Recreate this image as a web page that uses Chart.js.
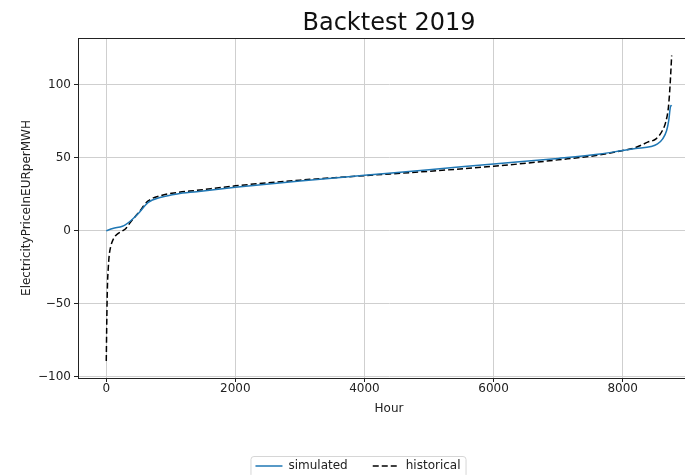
<!DOCTYPE html>
<html>
<head>
<meta charset="utf-8">
<script src="https://cdn.jsdelivr.net/npm/chart.js@4/dist/chart.umd.min.js"></script>
<style>
  html, body { margin: 0; padding: 0; overflow: hidden; background: #fff; }
</style>
</head>
<body>
<canvas id="chart" width="720" height="475"></canvas>
<script>
// ── Data ──────────────────────────────────────────────────────
const chartTitle = 'Backtest 2019';
const seriesNames = ['simulated', 'historical'];

const simHours  = [0, 100, 250, 300, 380, 500, 650, 850, 1100, 1400, 2000, 3000, 4000,
                   5000, 6000, 7000, 7650, 8000, 8200, 8440, 8540, 8620, 8680, 8714, 8739, 8759];
const simulated = [0, 1.6, 3.2, 4.3, 6.9, 12, 19.5, 23, 25.3, 26.8, 29.8, 34.2, 38.0,
                   41.8, 45.8, 49.6, 52.6, 55, 56.3, 57.7, 59.5, 63, 68.5, 75.6, 84.7, 86];

const histHours  = [0, 6, 12, 20, 30, 45, 70, 100, 140, 175, 250, 300, 380, 500, 650, 850,
                    1100, 1400, 2000, 3000, 4000, 5000, 6000, 7000, 7650, 8000, 8200, 8387,
                    8517, 8616, 8667, 8709, 8729, 8745, 8759];
const historical = [-89, -68, -50, -35, -26, -17, -10.5, -6.5, -3.5, -2, 0, 1.5, 6.2, 12.5, 20.5, 24.2,
                    26.2, 27.7, 30.8, 34.7, 37.8, 40.8, 44.2, 48.6, 52.0, 55, 57, 60.7,
                    63, 68.7, 74.4, 84.7, 96, 108, 120];

const xTicks = [0, 2000, 4000, 6000, 8000];
const yTicks = [-100, -50, 0, 50, 100];

// ── Defaults ──────────────────────────────────────────────────
Chart.defaults.font.family = '"DejaVu Sans", sans-serif';
Chart.defaults.font.size   = 12;
Chart.defaults.color       = '#222';

const toPoints = (xs, ys) => xs.map((x, i) => ({ x, y: ys[i] }));
const minusSign = (v) => String(v).replace('-', '\u2212');

// ── Plugins: title over axes, frame, legend box ───────────────
const axesDecor = {
  id: 'axesDecor',
  afterDraw(chart) {
    const { ctx, chartArea: a } = chart;
    ctx.save();
    ctx.strokeStyle = '#222';
    ctx.lineWidth = 1;
    ctx.strokeRect(a.left + 0.5, a.top + 0.5, a.right - a.left, a.bottom - a.top);

    ctx.fillStyle = '#111';
    ctx.font = '24px "DejaVu Sans", sans-serif';
    ctx.textAlign = 'center';
    ctx.textBaseline = 'alphabetic';
    ctx.fillText(chartTitle, (a.left + a.right) / 2, 30);

    const boxes = chart.legend.legendHitBoxes;
    if (boxes && boxes.length) {
      const x0 = Math.min(...boxes.map(b => b.left)) - 5;
      const x1 = Math.max(...boxes.map(b => b.left + b.width)) + 5;
      const y0 = Math.min(...boxes.map(b => b.top)) - 4;
      const y1 = Math.max(...boxes.map(b => b.top + b.height)) + 5;
      ctx.strokeStyle = '#d6d6d6';
      ctx.beginPath();
      ctx.roundRect(x0 + 0.5, y0 + 0.5, x1 - x0, y1 - y0, 3);
      ctx.stroke();
    }
    ctx.restore();
  },
};

// ── Line Chart ────────────────────────────────────────────────
new Chart(document.getElementById('chart'), {
  type: 'line',
  data: {
    datasets: [
      {
        label:           seriesNames[0],
        data:            toPoints(simHours, simulated),
        borderColor:     '#1f77b4',
        backgroundColor: '#1f77b4',
        borderWidth:     1.5,
        pointRadius:     0,
        cubicInterpolationMode: 'monotone',
      },
      {
        label:           seriesNames[1],
        data:            toPoints(histHours, historical),
        borderColor:     '#000',
        backgroundColor: '#000',
        borderWidth:     1.5,
        borderDash:      [6, 3],
        pointRadius:     0,
        cubicInterpolationMode: 'monotone',
      },
    ],
  },
  options: {
    responsive: false,
    animation:  false,
    layout: { padding: { top: 38, right: 20, left: 16, bottom: -7 } },
    plugins: {
      title:   { display: false },
      tooltip: { enabled: false },
      legend: {
        position: 'bottom',
        labels: {
          usePointStyle:   true,
          pointStyle:      'line',
          pointStyleWidth: 27,
          padding:         25,
          color:           '#222',
          font:            { size: 12 },
          generateLabels: (chart) =>
            Chart.defaults.plugins.legend.labels.generateLabels(chart).map((item) => {
              const ds = chart.data.datasets[item.datasetIndex];
              return { ...item, lineDash: ds.borderDash || [], lineWidth: 1.5, strokeStyle: ds.borderColor };
            }),
        },
      },
    },
    scales: {
      x: {
        type: 'linear',
        min:  -438,
        max:  9198,
        afterFit: (s) => { s.height = 57; },
        afterBuildTicks: (s) => { s.ticks = xTicks.map(v => ({ value: v })); },
        ticks:  { autoSkip: false, maxRotation: 0, padding: 0, color: '#222', callback: minusSign },
        grid:   { color: '#cfcfcf', tickColor: '#222', tickLength: 4 },
        border: { display: true, color: '#222', width: 1 },
        title:  { display: true, text: 'Hour', color: '#222', font: { size: 12 }, padding: { top: 2, bottom: 19 } },
      },
      y: {
        min: -100.7,
        max: 132,
        afterFit: (s) => { s.width = 62; },
        afterBuildTicks: (s) => { s.ticks = yTicks.map(v => ({ value: v })); },
        ticks:  { padding: 3, color: '#222', callback: minusSign },
        grid:   { color: '#cfcfcf', tickColor: '#222', tickLength: 4 },
        border: { display: true, color: '#222', width: 1 },
        title:  { display: true, text: 'ElectricityPriceInEURperMWH', color: '#222', font: { size: 12 }, padding: { top: 4 } },
      },
    },
  },
  plugins: [axesDecor],
});
</script>
</body>
</html>
